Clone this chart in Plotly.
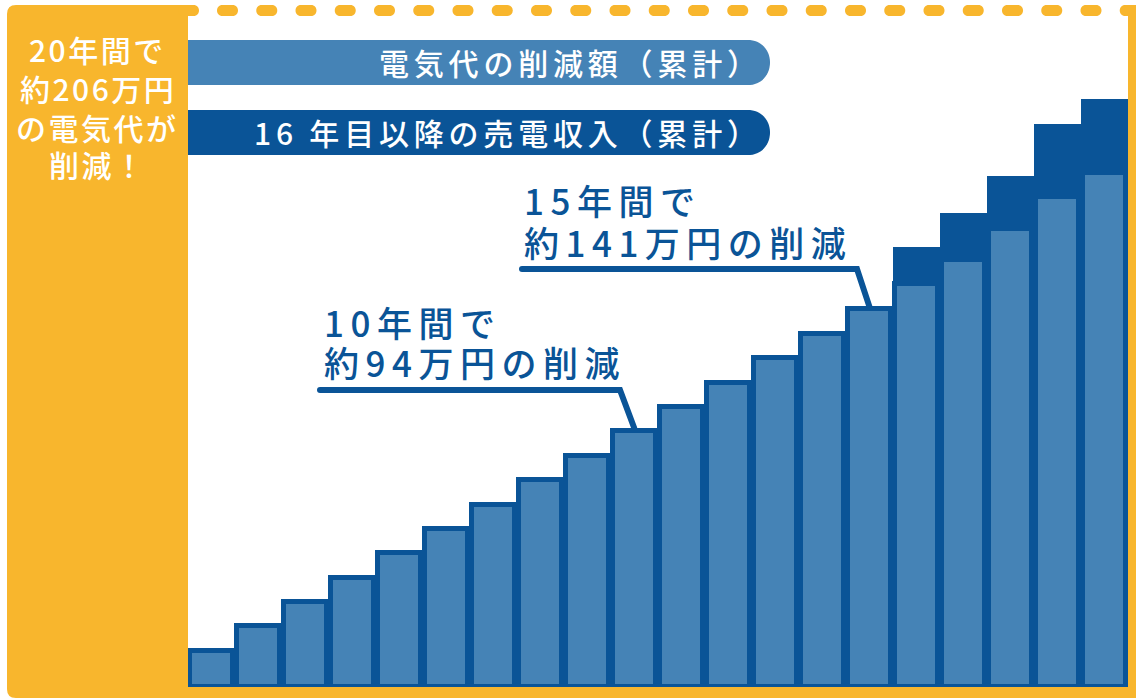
import plotly.graph_objects as go

# ---------------- data ----------------
years = list(range(1, 21))
# cumulative electricity-bill savings (万円)
savings = [9.4, 18.8, 28.2, 37.6, 47.0, 56.4, 65.8, 75.2, 84.6, 94.0,
           103.4, 112.8, 122.2, 131.6, 141.0, 150.7, 160.1, 172.2, 184.4, 193.7]
# cumulative power-selling income from year 16 on (万円), dark part above the light bars
sales_income = [0, 0, 0, 0, 0, 0, 0, 0, 0, 0,
                0, 0, 0, 0, 0, 14.5, 18.1, 20.2, 28.1, 28.4]
legend_labels = ["電気代の削減額（累計）", "16 年目以降の売電収入（累計）"]
headline = ["20年間で", "約206万円", "の電気代が", "削減！"]
callout_10 = ["10年間で", "約94万円の削減"]
callout_15 = ["15年間で", "約141万円の削減"]

# ---------------- style ----------------
ORANGE = "#f8b62d"
DARK = "#0a5497"
LIGHT = "#4583b6"
FONT = "Noto Sans CJK JP"

W, H = 1136, 698
ML, MR, MT, MB = 188, 8, 10, 11
PW, PH = W - ML - MR, H - MT - MB
PX_PER_UNIT = 2.594
Y_MIN = -4.55
Y_MAX = Y_MIN + PH / PX_PER_UNIT


def px(x):
    return (x - ML) / PW


def py(y):
    return (H - MB - y) / PH


def spaced(text, ls):
    return '<span style="letter-spacing:%.1fpx">%s</span>' % (ls, text)


def pill(x0, x1, y0, y1, left_round=True, right_round=True):
    r = (y1 - y0) / 2.0
    k = 4.0 / 3.0 * r
    pts = []
    if left_round:
        pts.append(("M", [(x0 + r, y0)]))
    else:
        pts.append(("M", [(x0, y0)]))
    if right_round:
        pts.append(("L", [(x1 - r, y0)]))
        pts.append(("C", [(x1 - r + k, y0), (x1 - r + k, y1), (x1 - r, y1)]))
    else:
        pts.append(("L", [(x1, y0)]))
        pts.append(("L", [(x1, y1)]))
    if left_round:
        pts.append(("L", [(x0 + r, y1)]))
        pts.append(("C", [(x0 + r - k, y1), (x0 + r - k, y0), (x0 + r, y0)]))
    else:
        pts.append(("L", [(x0, y1)]))
    s = ""
    for cmd, plist in pts:
        s += cmd + " " + " ".join("%.5f,%.5f" % (px(a), py(b)) for a, b in plist) + " "
    return s + "Z"


def poly(points):
    return "M " + " L ".join("%.5f,%.5f" % (px(a), py(b)) for a, b in points) + " Z"


totals = [s + t for s, t in zip(savings, sales_income)]
dark_x = [y for y, t in zip(years, sales_income) if t > 0]
dark_y = [tot - Y_MIN for tot, t in zip(totals, sales_income) if t > 0]

fig = go.Figure()
fig.add_trace(go.Bar(
    x=dark_x, y=dark_y, base=Y_MIN, width=1.0,
    marker=dict(color=DARK, line=dict(width=0)),
    name=legend_labels[1], showlegend=False,
))
fig.add_trace(go.Bar(
    x=years, y=[v - Y_MIN for v in savings], base=Y_MIN, width=0.9,
    marker=dict(color=LIGHT, line=dict(color=DARK, width=5)),
    name=legend_labels[0], showlegend=False,
))

shapes = []
# left orange panel
shapes.append(dict(type="path", xref="paper", yref="paper", layer="above",
                   path=("M %.5f,%.5f Q %.5f,%.5f %.5f,%.5f L %.5f,%.5f L %.5f,%.5f L %.5f,%.5f Q %.5f,%.5f %.5f,%.5f Z" % (
                       px(7), py(14), px(7), py(5), px(16), py(5), px(188), py(5), px(188), py(698),
                       px(16), py(698), px(7), py(698), px(7), py(689))),
                   fillcolor=ORANGE, line=dict(width=0)))
# bottom strip and right bar
shapes.append(dict(type="path", xref="paper", yref="paper", layer="above",
                   path=poly([(180, 687), (1136, 687), (1136, 698), (180, 698)]),
                   fillcolor=ORANGE, line=dict(width=0)))
shapes.append(dict(type="path", xref="paper", yref="paper", layer="above",
                   path=poly([(1128, 10), (1136, 10), (1136, 698), (1128, 698)]),
                   fillcolor=ORANGE, line=dict(width=0)))
# dotted top border
shapes.append(dict(type="path", xref="paper", yref="paper", layer="above",
                   path=pill(178, 199, 5, 16), fillcolor=ORANGE, line=dict(width=0)))
for i in range(24):
    x0 = 217 + 39.25 * i
    shapes.append(dict(type="path", xref="paper", yref="paper", layer="above",
                       path=pill(x0, x0 + 21, 5, 16), fillcolor=ORANGE, line=dict(width=0)))
# legend pills
shapes.append(dict(type="path", xref="paper", yref="paper", layer="above",
                   path=pill(188, 770, 40, 85, left_round=False), fillcolor=LIGHT, line=dict(width=0)))
shapes.append(dict(type="path", xref="paper", yref="paper", layer="above",
                   path=pill(188, 770, 110, 155, left_round=False), fillcolor=DARK, line=dict(width=0)))


# callout leader lines (data coordinates, ending on the bar tops)
def xcat(pxv):
    return (pxv - ML) / PW * 20 + 0.5


def yval(pyv):
    return Y_MIN + (H - MB - pyv) / PX_PER_UNIT


lead10 = [(xcat(320), yval(390)), (xcat(620), yval(390)), (years[9], savings[9] + 1)]
lead15 = [(xcat(522), yval(269)), (xcat(857), yval(269)), (years[14], savings[14] + 1)]
for pts in (lead10, lead15):
    shapes.append(dict(type="path", xref="x", yref="y", layer="above",
                       path="M " + " L ".join("%.4f,%.4f" % p for p in pts),
                       line=dict(color=DARK, width=6)))
    # rounded start cap
    shapes.append(dict(type="circle", xref="x", yref="y", layer="above",
                       xsizemode="pixel", ysizemode="pixel",
                       xanchor=pts[0][0], yanchor=pts[0][1],
                       x0=-3, x1=3, y0=-3, y1=3,
                       fillcolor=DARK, line=dict(width=0)))

annotations = []
head_y = [49, 88, 127, 164]
for line, yy in zip(headline, head_y):
    annotations.append(dict(xref="paper", yref="paper", x=px(97.5), y=py(yy),
                            text=spaced(line, 2.5), showarrow=False,
                            xanchor="center", yanchor="middle",
                            font=dict(family=FONT, size=30, color="white", weight=500)))
annotations.append(dict(xref="paper", yref="paper", x=px(764), y=py(62),
                        text=spaced(legend_labels[0], 4.8), showarrow=False,
                        xanchor="right", yanchor="middle",
                        font=dict(family=FONT, size=30, color="white", weight=500)))
annotations.append(dict(xref="paper", yref="paper", x=px(764), y=py(132),
                        text=spaced(legend_labels[1], 4.8), showarrow=False,
                        xanchor="right", yanchor="middle",
                        font=dict(family=FONT, size=30, color="white", weight=500)))
for lines, x_left, ys in ((callout_10, 322, (321, 362)), (callout_15, 522, (200, 241))):
    for line, yy in zip(lines, ys):
        annotations.append(dict(xref="paper", yref="paper", x=px(x_left), y=py(yy),
                                text=spaced(line, 6.5), showarrow=False,
                                xanchor="left", yanchor="middle",
                                font=dict(family=FONT, size=35, color=DARK, weight=500)))

fig.update_layout(
    width=W, height=H,
    margin=dict(l=ML, r=MR, t=MT, b=MB, pad=0),
    paper_bgcolor="white", plot_bgcolor="white",
    barmode="overlay", bargap=0,
    xaxis=dict(range=[0.5, 20.5], visible=False, fixedrange=True),
    yaxis=dict(range=[Y_MIN, Y_MAX], visible=False, fixedrange=True),
    shapes=shapes, annotations=annotations,
    showlegend=False,
    font=dict(family=FONT),
)

fig.write_html("out.html", config={"displayModeBar": False},
               post_script="document.body.style.margin='0';document.body.style.overflow='hidden';")
